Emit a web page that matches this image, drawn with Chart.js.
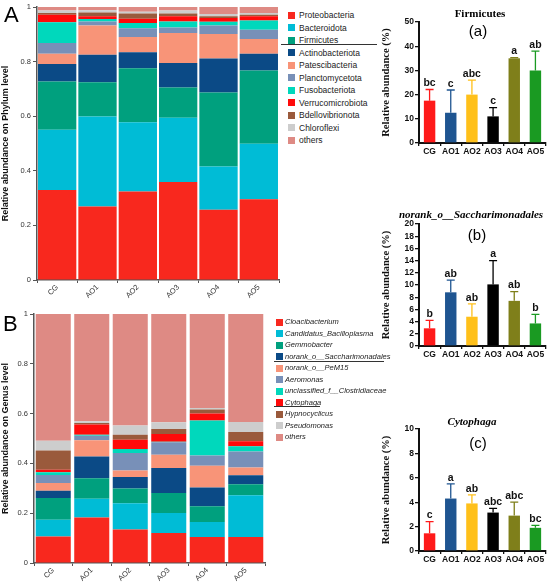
<!DOCTYPE html>
<html><head><meta charset="utf-8">
<script src="https://cdn.jsdelivr.net/npm/chart.js@4.4.1/dist/chart.umd.min.js"></script>
<style>
body{margin:0;background:#fff;width:550px;height:584px;position:relative;overflow:hidden;font-family:Arial,"Liberation Sans",sans-serif;}
canvas{position:absolute;}
.t{position:absolute;white-space:nowrap;}
.lg{position:absolute;white-space:nowrap;line-height:1;}
.sw{position:absolute;width:7px;height:7px;}
.hl{position:absolute;height:0;border-top:1px solid #333;}
</style></head><body>
<canvas id="cA" width="282" height="300" style="left:0;top:0;width:282px;height:300px"></canvas>
<canvas id="cB" width="268" height="294" style="left:0;top:290px;width:268px;height:294px"></canvas>
<canvas id="ca" width="170" height="162" style="left:380px;top:0;width:170px;height:162px"></canvas>
<canvas id="cb" width="170" height="180" style="left:380px;top:186px;width:170px;height:180px"></canvas>
<canvas id="cc" width="170" height="200" style="left:380px;top:370px;width:170px;height:200px"></canvas>
<div class="t" style="left:4px;top:2px;font-size:22px;">A</div>
<div class="t" style="left:3px;top:311px;font-size:22px;">B</div>
<div id="legA"></div><div id="legB"></div>
<div class="t" style="left:480px;top:13px;transform:translate(-50%,-50%);font:bold 11px 'Liberation Serif','Times New Roman',serif;">Firmicutes</div>
<div class="t" style="left:478px;top:30px;transform:translate(-50%,-50%);font-size:15px;">(a)</div>
<div class="t" style="left:471px;top:214px;transform:translate(-50%,-50%);font:italic bold 11px 'Liberation Serif','Times New Roman',serif;">norank_o__Saccharimonadales</div>
<div class="t" style="left:477px;top:234px;transform:translate(-50%,-50%);font-size:15px;">(b)</div>
<div class="t" style="left:472px;top:421px;transform:translate(-50%,-50%);font:italic bold 11px 'Liberation Serif','Times New Roman',serif;">Cytophaga</div>
<div class="t" style="left:478px;top:442px;transform:translate(-50%,-50%);font-size:15px;">(c)</div>
<script>
// ---------- data ----------
const samples = ['CG','AO1','AO2','AO3','AO4','AO5'];

const phylumNames = ['Proteobacteria','Bacteroidota','Firmicutes','Actinobacteriota','Patescibacteria','Planctomycetota','Fusobacteriota','Verrucomicrobiota','Bdellovibrionota','Chloroflexi','others'];
const proteobacteria    = [0.330, 0.269, 0.324, 0.359, 0.257, 0.296];
const bacteroidota      = [0.220, 0.330, 0.254, 0.235, 0.159, 0.203];
const firmicutes        = [0.177, 0.125, 0.198, 0.111, 0.271, 0.268];
const actinobacteriota  = [0.064, 0.101, 0.058, 0.090, 0.124, 0.062];
const patescibacteria   = [0.038, 0.107, 0.056, 0.110, 0.090, 0.054];
const planctomycetota   = [0.039, 0.015, 0.032, 0.020, 0.031, 0.034];
const fusobacteriota    = [0.076, 0.009, 0.019, 0.022, 0.014, 0.034];
const verrucomicrobiota = [0.028, 0.010, 0.016, 0.019, 0.014, 0.015];
const bdellovibrionota  = [0.006, 0.014, 0.019, 0.010, 0.006, 0.006];
const chloroflexi       = [0.009, 0.008, 0.007, 0.011, 0.008, 0.006];
const phylumOthers      = [0.013, 0.012, 0.017, 0.013, 0.026, 0.022];

const genusNames = ['Cloacibacterium','Candidatus_Bacilloplasma','Gemmobacter','norank_o__Saccharimonadales','norank_o__PeM15','Aeromonas','unclassified_f__Clostridiaceae','Cytophaga','Hypnocyclicus','Pseudomonas','others'];
const cloacibacterium   = [0.106, 0.183, 0.135, 0.120, 0.104, 0.104];
const bacilloplasma     = [0.068, 0.075, 0.105, 0.081, 0.061, 0.168];
const gemmobacter       = [0.087, 0.082, 0.059, 0.080, 0.063, 0.044];
const saccharimonadales = [0.029, 0.088, 0.046, 0.101, 0.075, 0.036];
const pem15             = [0.031, 0.065, 0.026, 0.053, 0.088, 0.032];
const aeromonas         = [0.032, 0.018, 0.071, 0.050, 0.041, 0.064];
const clostridiaceae    = [0.011, 0.004, 0.016, 0.002, 0.140, 0.021];
const cytophagaShare    = [0.011, 0.041, 0.037, 0.031, 0.028, 0.020];
const hypnocyclicus     = [0.077, 0.006, 0.020, 0.020, 0.016, 0.037];
const pseudomonas       = [0.039, 0.007, 0.037, 0.027, 0.006, 0.040];
const genusOthers       = [0.509, 0.431, 0.448, 0.435, 0.378, 0.434];

const firmMean = [17.5, 12.5, 20.0, 11.0, 35.0, 30.0];
const firmSD   = [4.6, 9.4, 6.0, 3.6, 0.3, 8.0];
const firmSig  = ['bc','c','abc','c','a','ab'];
const saccMean = [2.9, 8.8, 4.8, 10.1, 7.4, 3.7];
const saccSD   = [1.3, 2.0, 2.1, 3.9, 1.5, 1.5];
const saccSig  = ['b','ab','ab','a','ab','b'];
const cytoMean = [1.45, 4.3, 3.9, 3.15, 2.9, 1.9];
const cytoSD   = [0.95, 1.2, 0.7, 0.35, 1.1, 0.2];
const cytoSig  = ['c','a','ab','abc','abc','bc'];

// ---------- styles ----------
const taxColors = ['#f8281e','#00bcd6','#00a07e','#0b4a86','#f89478','#7890b8','#00d8bc','#ff0a0a','#9a5a3c','#cdcdcd','#de8a84'];
const groupColors = ['#ff1a1a','#1f5591','#ffc01a','#000000','#7f7f1a','#1a9a22'];

const phylumData = [proteobacteria,bacteroidota,firmicutes,actinobacteriota,patescibacteria,planctomycetota,fusobacteriota,verrucomicrobiota,bdellovibrionota,chloroflexi,phylumOthers];
const genusData = [cloacibacterium,bacilloplasma,gemmobacter,saccharimonadales,pem15,aeromonas,clostridiaceae,cytophagaShare,hypnocyclicus,pseudomonas,genusOthers];

Chart.defaults.animation = false;
Chart.defaults.devicePixelRatio = 1;

function stackChart(id, names, data, yTitle, catPct, pad) {
  new Chart(document.getElementById(id), {
    type: 'bar',
    data: { labels: samples, datasets: names.map((n,i)=>({label:n, data:data[i], backgroundColor:taxColors[i], borderWidth:0, barPercentage:1, categoryPercentage:catPct})) },
    options: {
      responsive:false, maintainAspectRatio:false,
      layout:{padding:pad},
      plugins:{legend:{display:false}, tooltip:{enabled:false}},
      scales:{
        x:{stacked:true, grid:{display:true, drawOnChartArea:false, tickLength:3, color:'#555'},
           border:{color:'#555', width:1.5},
           ticks:{autoSkip:false, minRotation:45, maxRotation:45, padding:0, color:'#333', font:{size:7.5, family:'Arial'}},
           afterFit:s=>{s.height = pad.xh;}},
        y:{stacked:true, min:0, max:1, grid:{display:true, drawOnChartArea:false, tickLength:4, color:'#555'},
           border:{color:'#555', width:1.5},
           ticks:{autoSkip:false, stepSize:0.2, padding:2, color:'#333', font:{size:7.5, family:'Arial'}, callback:v=>(Math.round(v*10)/10).toString()},
           title:{display:true, text:yTitle, color:'#111', padding:{top:0,bottom:2}, font:{size:9, weight:'bold', family:'Arial'}},
           afterFit:s=>{s.width = pad.yw;}}
      }
    }
  });
}
stackChart('cA', phylumNames, phylumData, 'Relative abundance on Phylum level', 0.95, {top:7, right:3, bottom:0, left:0, xh:20, yw:37});
stackChart('cB', genusNames, genusData, 'Relative abundance on Genus level', 0.91, {top:24, right:3, bottom:0, left:0, xh:21, yw:34});

const errPlugin = {
  id:'err',
  afterDatasetsDraw(chart){
    const ctx = chart.ctx, ds = chart.data.datasets[0], meta = chart.getDatasetMeta(0), y = chart.scales.y;
    meta.data.forEach((bar,i)=>{
      const top = y.getPixelForValue(ds.data[i] + ds.sd[i]);
      ctx.save();
      ctx.strokeStyle = groupColors[i]; ctx.lineWidth = 1.3;
      ctx.beginPath();
      ctx.moveTo(bar.x, bar.y); ctx.lineTo(bar.x, top);
      ctx.moveTo(bar.x-4, top); ctx.lineTo(bar.x+4, top);
      ctx.stroke();
      ctx.fillStyle = '#111'; ctx.font = 'bold 10.5px Arial'; ctx.textAlign='center'; ctx.textBaseline='bottom';
      ctx.fillText(ds.sig[i], bar.x, top-1);
      ctx.restore();
    });
  }
};
function barChart(id, mean, sd, sig, max, step, padTop, xh) {
  new Chart(document.getElementById(id), {
    type:'bar',
    data:{labels:samples, datasets:[{data:mean, sd:sd, sig:sig, backgroundColor:groupColors, borderWidth:0, barPercentage:0.54, categoryPercentage:1}]},
    options:{
      responsive:false, maintainAspectRatio:false,
      layout:{padding:{top:padTop, right:4, left:0, bottom:0}},
      plugins:{legend:{display:false}, tooltip:{enabled:false}},
      scales:{
        x:{grid:{display:true, drawOnChartArea:false, tickLength:3, color:'#111', lineWidth:1.3},
           border:{color:'#111', width:2},
           ticks:{autoSkip:false, padding:1, color:'#111', font:{size:8.5, weight:'bold', family:'Arial'}, maxRotation:0},
           afterFit:s=>{s.height = xh;}},
        y:{min:0, max:max, grid:{display:true, drawOnChartArea:false, tickLength:4, color:'#111', lineWidth:1.3},
           border:{color:'#111', width:2},
           ticks:{autoSkip:false, stepSize:step, padding:1, color:'#111', font:{size:8.5, weight:'bold', family:'Arial'}},
           title:{display:true, text:'Relative abundance (%)', color:'#111', padding:{top:0,bottom:1}, font:{size:10.5, weight:'bold', family:"'Liberation Serif','Times New Roman',serif"}},
           afterFit:s=>{s.width = 39;}}
      }
    },
    plugins:[errPlugin]
  });
}
barChart('ca', firmMean, firmSD, firmSig, 50, 10, 22, 19);
barChart('cb', saccMean, saccSD, saccSig, 20, 2, 38, 20);
barChart('cc', cytoMean, cytoSD, cytoSig, 10, 2, 59, 19);

// ---------- legends ----------
function legend(el, names, x0, y0, dy, fontCss, textX) {
  const box = document.getElementById(el);
  names.forEach((n,i)=>{
    const cy = y0 + i*dy;
    const s = document.createElement('div'); s.className='sw';
    s.style.left = x0+'px'; s.style.top = (cy-3.5)+'px'; s.style.background = taxColors[i];
    box.appendChild(s);
    const t = document.createElement('div'); t.className='lg';
    t.style.left = textX+'px'; t.style.top = (cy-5)+'px'; t.style.font = fontCss; t.style.color='#222';
    t.textContent = n; box.appendChild(t);
  });
}
legend('legA', phylumNames, 288, 15, 12.5, '8.5px Arial', 299);
legend('legB', genusNames, 276, 322, 11.5, 'italic 7.5px Arial', 285);
function hline(x,y,w){const d=document.createElement('div');d.className='hl';d.style.left=x+'px';d.style.top=y+'px';d.style.width=w+'px';document.body.appendChild(d);}
hline(281,44,96);
hline(274,361,110);
hline(274,406,46);
</script>
</body></html>
